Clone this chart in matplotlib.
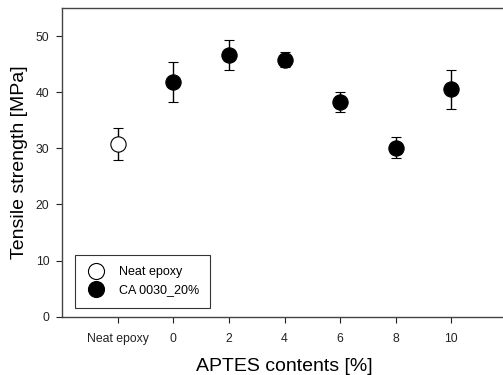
import matplotlib
matplotlib.use("Agg")
import matplotlib.pyplot as plt

plt.rcParams['font.family'] = ['Liberation Sans', 'DejaVu Sans']

tick_pos = [-2, 0, 2, 4, 6, 8, 10]
tick_labels = ["Neat epoxy", "0", "2", "4", "6", "8", "10"]

neat_x = [-2]
neat_y = [30.8]
neat_err = [2.9]

ca_x = [0, 2, 4, 6, 8, 10]
ca_y = [41.8, 46.6, 45.8, 38.3, 30.1, 40.5]
ca_err = [3.5, 2.7, 1.3, 1.8, 1.9, 3.5]

fig = plt.figure(figsize=(5.03, 3.75), dpi=100)
ax = fig.add_axes([62/503, 1-316.7/375, 445/503, 308.7/375])

ax.errorbar(neat_x, neat_y, yerr=neat_err, fmt='o', color='black', mfc='white', mec='black',
            ms=11, mew=0.8, capsize=3.5, elinewidth=1, capthick=1, label='Neat epoxy', zorder=3)
ax.errorbar(ca_x, ca_y, yerr=ca_err, fmt='o', color='black', mfc='black', mec='black',
            ms=11, mew=0.8, capsize=3.5, elinewidth=1, capthick=1, label='CA 0030_20%', zorder=3)

ax.set_xlim(-4, 12)
ax.set_ylim(0, 55)
ax.set_xticks(tick_pos)
ax.set_xticklabels(tick_labels)
ax.set_yticks([0, 10, 20, 30, 40, 50])
ax.tick_params(axis='both', direction='out', length=4, width=0.8, labelsize=8.8, colors='#222222')
ax.tick_params(axis='x', pad=8)
ax.tick_params(axis='y', pad=5)
ax.spines['right'].set_visible(False)
for s in ['left', 'top', 'bottom']:
    ax.spines[s].set_color('#444444')
    ax.spines[s].set_linewidth(1)

ax.set_xlabel("APTES contents [%]", fontsize=14, labelpad=9)
ax.set_ylabel("Tensile strength [MPa]", fontsize=14, labelpad=6)

leg = ax.legend(loc='lower left', bbox_to_anchor=(13/445, 9/308.7), fontsize=9, frameon=True,
                fancybox=False, edgecolor='black', borderpad=0.9, handletextpad=1.0,
                labelspacing=0.5, borderaxespad=0, handlelength=1.6, markerscale=1.05)
leg.get_frame().set_linewidth(0.8)

fig.savefig("out.png", dpi=100)
